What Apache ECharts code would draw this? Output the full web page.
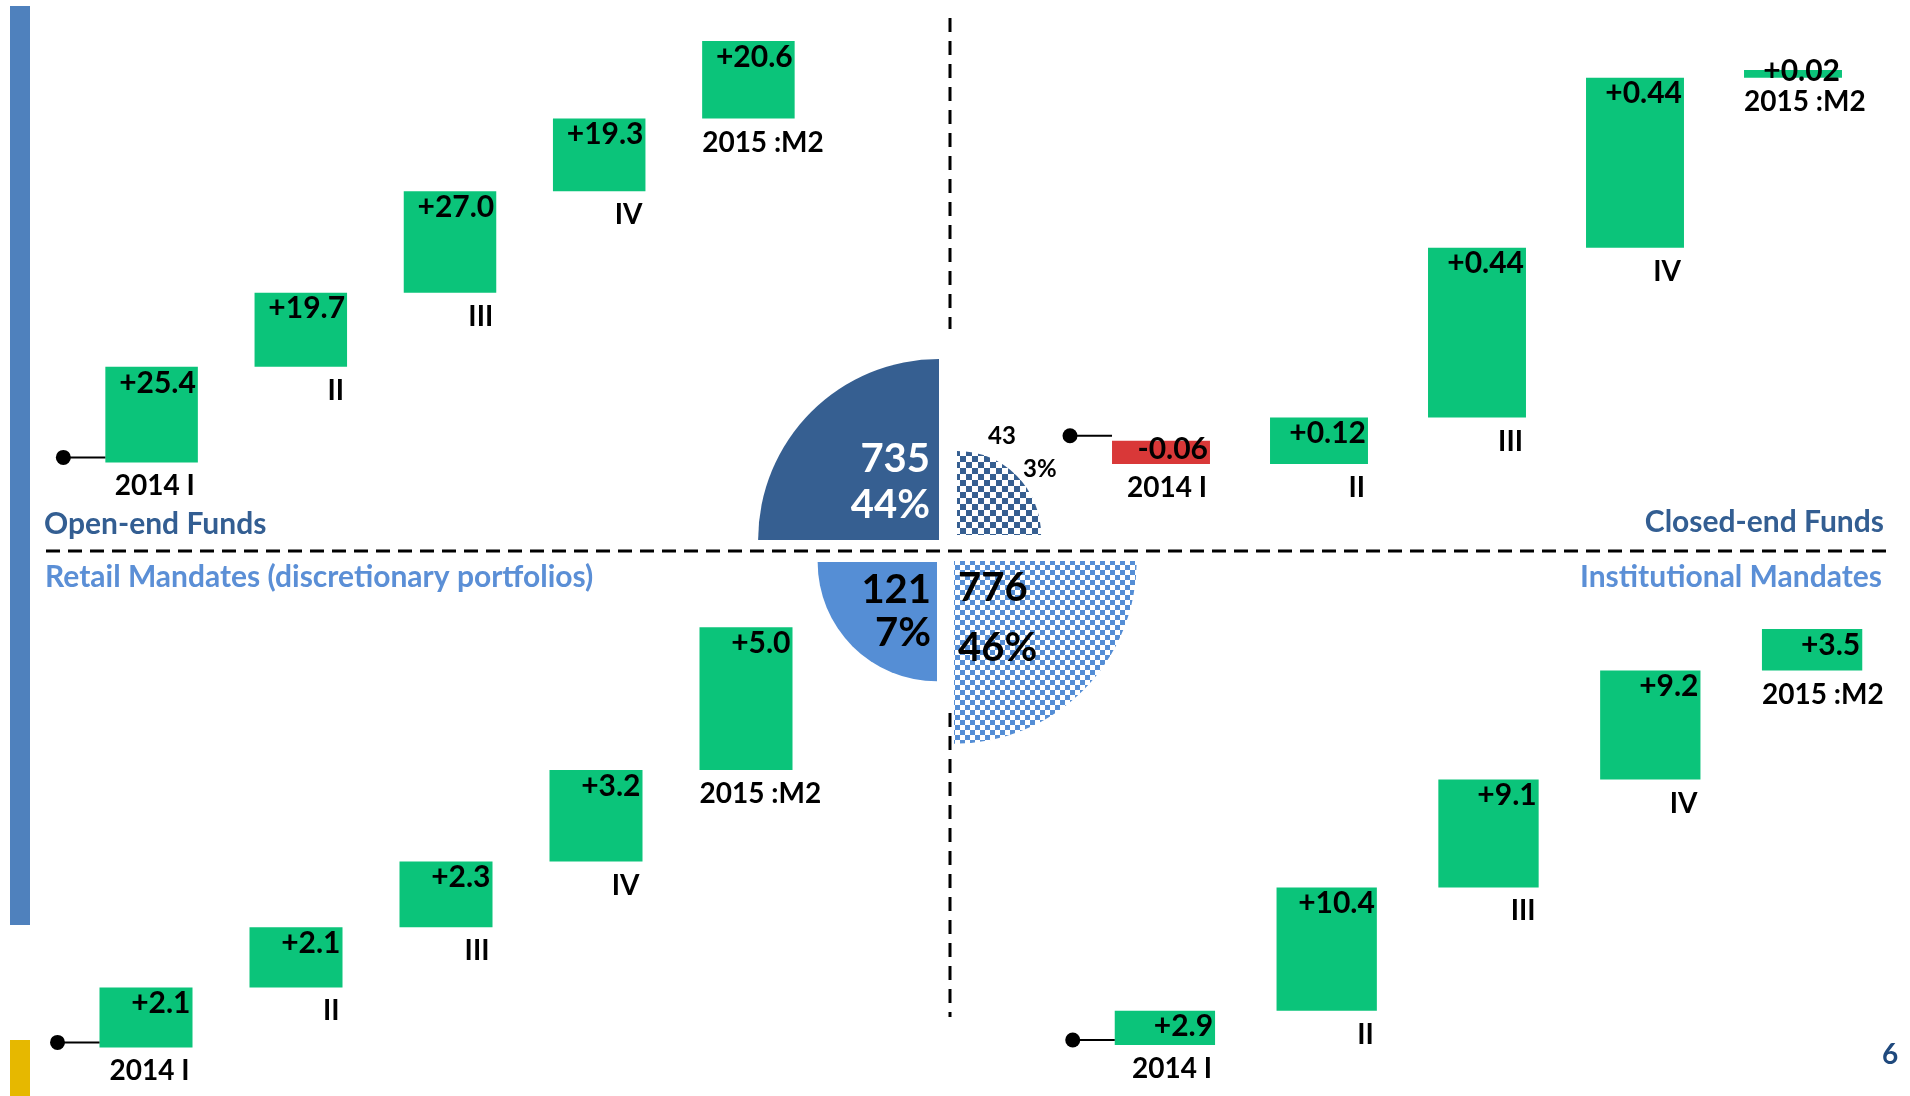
<!DOCTYPE html>
<html>
<head>
<meta charset="utf-8">
<title>Asset management flows by segment</title>
<script src="https://cdn.jsdelivr.net/npm/echarts@6/dist/echarts.min.js"></script>
<style>
  html, body { margin: 0; padding: 0; background: #ffffff; }
  #chart { width: 1910px; height: 1096px; }
</style>
</head>
<body>
<div id="chart"></div>
<script>
// ---- data ----
const periods = ['2014 I', 'II', 'III', 'IV', '2015 :M2'];
const openEndFlows = [25.4, 19.7, 27.0, 19.3, 20.6];
const closedEndFlows = [-0.06, 0.12, 0.44, 0.44, 0.02];
const retailFlows = [2.1, 2.1, 2.3, 3.2, 5.0];
const institutionalFlows = [2.9, 10.4, 9.1, 9.2, 3.5];
const segmentNames = ['Open-end Funds', 'Closed-end Funds',
  'Retail Mandates (discretionary portfolios)', 'Institutional Mandates'];
const segmentTotals = [735, 43, 121, 776];
const segmentShares = [44, 3, 7, 46];

// ---- styling ----
const FONT = 'Lato, "Noto Sans", sans-serif';
const GREEN = '#0bc47a';
const RED = '#d93838';
const DARK_BLUE = '#365f91';
const LIGHT_BLUE = '#558ed5';

// quadrant layouts: 0 top-left, 1 top-right, 2 bottom-left, 3 bottom-right
const grids = [
  { left: 77, top: 11, width: 746, height: 489 },
  { left: 1082, top: 16, width: 790, height: 502 },
  { left: 71, top: 590, width: 750, height: 486 },
  { left: 1084, top: 571, width: 809, height: 509.6 }
];
const yRanges = [[-10, 120], [-0.2, 1.1], [-1, 16], [-3, 40]];
const decimals = [1, 2, 1, 1];
const flowSets = [openEndFlows, closedEndFlows, retailFlows, institutionalFlows];

// waterfall steps: [index, low, high, change]
function waterfall(flows) {
  let level = 0;
  return flows.map((d, i) => {
    const from = level, to = level + d;
    level = to;
    return [i, Math.min(from, to), Math.max(from, to), d];
  });
}

function fmt(d, dec) {
  return (d < 0 ? '-' : '+') + Math.abs(d).toFixed(dec);
}

function makeWaterfallRenderer(dec) {
  return function (params, api) {
    const i = api.value(0), lo = api.value(1), hi = api.value(2), d = api.value(3);
    const band = api.size([1, 0])[0];
    const w = band * 0.62;
    const top = api.coord([i, hi]);
    const bot = api.coord([i, lo]);
    const x0 = top[0] - w / 2, x1 = top[0] + w / 2;
    const h = Math.max(bot[1] - top[1], 1);
    const last = i === periods.length - 1;
    const children = [
      { type: 'rect', shape: { x: x0, y: top[1], width: w, height: h },
        style: { fill: d < 0 ? RED : GREEN } },
      { type: 'text', z2: 5, style: {
          text: fmt(d, dec), x: x1 - 2, y: h < 30 ? top[1] + h / 2 - 3 : top[1] + 16,
          align: 'right', verticalAlign: 'middle', fill: '#000',
          font: 'bold 30px ' + FONT } },
      { type: 'text', z2: 5, style: {
          text: periods[i], x: last ? x0 : x1 - 3, y: bot[1] + 24,
          align: last ? 'left' : 'right', verticalAlign: 'middle', fill: '#000',
          font: 'bold 28px ' + FONT } }
    ];
    if (i === 0) {
      const start = api.coord([0, 0]);
      const cy = start[1] - 5;
      children.push(
        { type: 'line', shape: { x1: x0 - 42, y1: cy, x2: x0, y2: cy },
          style: { stroke: '#000', lineWidth: 2 } },
        { type: 'circle', shape: { cx: x0 - 42, cy: cy, r: 7.5 },
          style: { fill: '#000' } }
      );
    }
    return { type: 'group', children };
  };
}

// checkerboard fill
function checker(color, cell) {
  const c = document.createElement('canvas');
  c.width = c.height = cell * 2;
  const g = c.getContext('2d');
  g.fillStyle = '#ffffff';
  g.fillRect(0, 0, cell * 2, cell * 2);
  g.fillStyle = color;
  g.fillRect(0, 0, cell, cell);
  g.fillRect(cell, cell, cell, cell);
  return { image: c, repeat: 'repeat' };
}

// share sectors around the centre, one per quadrant
const sectorFills = [DARK_BLUE, checker(DARK_BLUE, 6), LIGHT_BLUE, checker(LIGHT_BLUE, 5)];
const sectorOffsets = [[-9, -11], [9, -16], [-11, 11], [6, 10]];
const sectorAngles = [[Math.PI, Math.PI * 1.5], [Math.PI * 1.5, Math.PI * 2],
  [Math.PI * 0.5, Math.PI], [0, Math.PI * 0.5]];
// label placement relative to each sector corner
const sectorLabels = [
  { align: 'right', dx: [-9, -9], dy: [-81, -35], size: 40, color: '#ffffff' },
  { align: 'left', dx: [31, 66], dy: [-99, -66], size: 24, color: '#000000' },
  { align: 'right', dx: [-6, -6], dy: [28, 71], size: 40, color: '#000000' },
  { align: 'left', dx: [4, 4], dy: [27, 87], size: 40, color: '#000000' }
];

function renderSector(params, api) {
  const k = params.dataIndex;
  const cs = params.coordSys;
  const v = api.value(0);
  const p = api.coord([v, 0]);
  const r = Math.hypot(p[0] - cs.cx, p[1] - cs.cy);
  const cx = cs.cx + sectorOffsets[k][0];
  const cy = cs.cy + sectorOffsets[k][1];
  const lab = sectorLabels[k];
  const lines = [String(segmentTotals[k]), segmentShares[k] + '%'];
  const children = [
    { type: 'sector', shape: { cx, cy, r0: 0, r,
        startAngle: sectorAngles[k][0], endAngle: sectorAngles[k][1], clockwise: true },
      style: { fill: sectorFills[k] } }
  ];
  lines.forEach((t, j) => children.push({
    type: 'text', z2: 10, style: {
      text: t, x: cx + lab.dx[j], y: cy + lab.dy[j], align: lab.align,
      verticalAlign: 'middle', fill: lab.color, font: 'bold ' + lab.size + 'px ' + FONT }
  }));
  return { type: 'group', children };
}

const chart = echarts.init(document.getElementById('chart'), null, { renderer: 'canvas' });

const option = {
  backgroundColor: '#ffffff',
  animation: false,
  grid: grids.map(g => Object.assign({ containLabel: false }, g)),
  xAxis: grids.map((g, q) => ({ type: 'category', gridIndex: q, data: periods, show: false })),
  yAxis: grids.map((g, q) => ({ type: 'value', gridIndex: q, min: yRanges[q][0],
    max: yRanges[q][1], show: false, splitLine: { show: false } })),
  polar: { center: [948, 551], radius: 191.4 },
  angleAxis: { type: 'value', min: 0, max: 4, show: false },
  radiusAxis: { type: 'log', min: 3.66, max: 1000, show: false },
  series: flowSets.map((flows, q) => ({
    type: 'custom', name: segmentNames[q], xAxisIndex: q, yAxisIndex: q,
    renderItem: makeWaterfallRenderer(decimals[q]),
    data: waterfall(flows), clip: false
  })).concat([{
    type: 'custom', name: 'Share of total', coordinateSystem: 'polar',
    renderItem: renderSector,
    data: segmentTotals.map((v, k) => [v, k + 0.5])
  }]),
  graphic: [
    { type: 'rect', shape: { x: 10, y: 6, width: 20, height: 919 }, style: { fill: '#4f81bd' } },
    { type: 'rect', shape: { x: 10, y: 1040, width: 20, height: 56 }, style: { fill: '#e6b800' } },
    { type: 'line', shape: { x1: 46, y1: 551, x2: 1886, y2: 551 },
      style: { stroke: '#000', lineWidth: 3, lineDash: [14, 8] } },
    { type: 'line', shape: { x1: 950, y1: 18, x2: 950, y2: 329 },
      style: { stroke: '#000', lineWidth: 3, lineDash: [14, 9] } },
    { type: 'line', shape: { x1: 950, y1: 713, x2: 950, y2: 1017 },
      style: { stroke: '#000', lineWidth: 3, lineDash: [14, 9] } },
    { type: 'text', style: { text: segmentNames[0], x: 44, y: 524, verticalAlign: 'middle',
      align: 'left', fill: '#335e92', font: 'bold 30px ' + FONT } },
    { type: 'text', style: { text: segmentNames[1], x: 1884, y: 522, verticalAlign: 'middle',
      align: 'right', fill: '#335e92', font: 'bold 30px ' + FONT } },
    { type: 'text', style: { text: segmentNames[2], x: 45, y: 577, verticalAlign: 'middle',
      align: 'left', fill: '#5b8fd6', font: 'bold 30px ' + FONT } },
    { type: 'text', style: { text: segmentNames[3], x: 1882, y: 577, verticalAlign: 'middle',
      align: 'right', fill: '#5b8fd6', font: 'bold 30px ' + FONT } },
    { type: 'text', style: { text: '6', x: 1890, y: 1055, verticalAlign: 'middle',
      align: 'center', fill: '#1f497d', font: 'bold 28px ' + FONT } }
  ]
};

chart.setOption(option);
</script>
</body>
</html>
